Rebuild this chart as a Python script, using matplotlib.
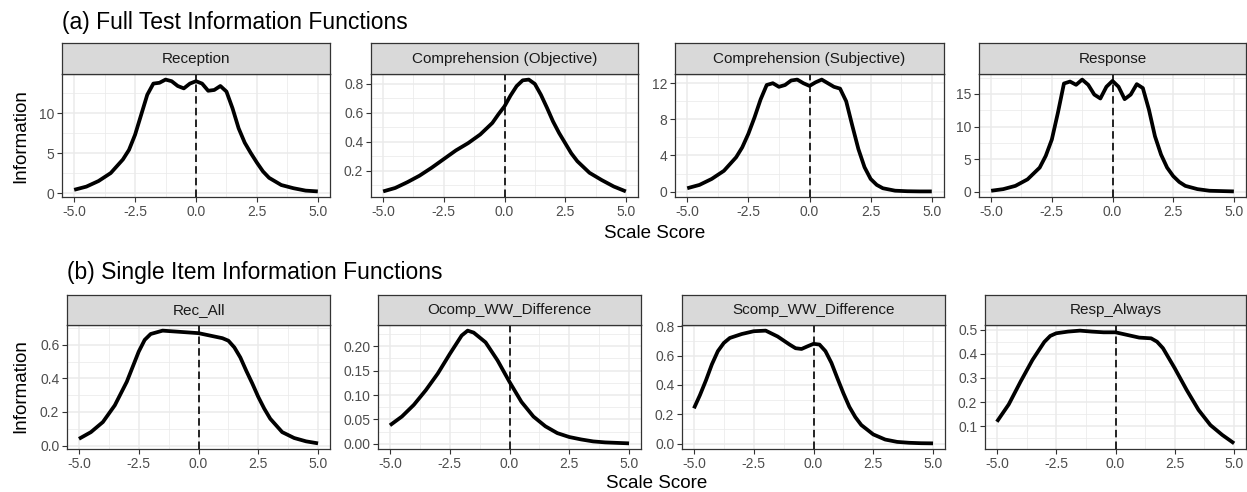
import numpy as np
import matplotlib
matplotlib.use("Agg")
from matplotlib import pyplot as plt

plt.rcParams['font.family'] = ['Liberation Sans', 'DejaVu Sans']

# ---- data ----
rec_x = [-5, -4.5, -4, -3.5, -3, -2.75, -2.5, -2.25, -2, -1.75, -1.5, -1.25, -1, -0.75, -0.5, -0.25,
         0, 0.25, 0.5, 0.75, 1, 1.25, 1.5, 1.75, 2, 2.25, 2.5, 2.75, 3, 3.5, 4, 4.5, 5]
rec_y = [0.4, 0.8, 1.5, 2.5, 4.2, 5.4, 7.3, 9.8, 12.3, 13.7, 13.8, 14.2, 14.0, 13.4, 13.1, 13.7,
         14.0, 13.7, 12.8, 12.9, 13.4, 12.7, 10.6, 8.1, 6.3, 5.0, 3.8, 2.7, 1.9, 1.0, 0.6, 0.3, 0.2]

ocomp_full_x = [-5, -4.5, -4, -3.5, -3, -2.5, -2, -1.5, -1, -0.5, -0.25, 0, 0.25, 0.5, 0.75, 1,
                1.25, 1.5, 1.75, 2, 2.25, 2.5, 2.75, 3, 3.5, 4, 4.5, 5]
ocomp_full_y = [0.056, 0.08, 0.12, 0.165, 0.22, 0.28, 0.34, 0.39, 0.45, 0.53, 0.59, 0.645, 0.72,
                0.785, 0.825, 0.83, 0.80, 0.725, 0.635, 0.54, 0.46, 0.39, 0.32, 0.265, 0.185,
                0.135, 0.09, 0.056]

scomp_full_x = [-5, -4.5, -4, -3.5, -3, -2.75, -2.5, -2.25, -2, -1.75, -1.5, -1.25, -1, -0.75,
                -0.5, -0.25, 0, 0.25, 0.5, 0.75, 1, 1.25, 1.5, 1.75, 2, 2.25, 2.5, 2.75, 3,
                3.5, 4, 4.5, 5]
scomp_full_y = [0.37, 0.74, 1.4, 2.3, 3.8, 4.9, 6.4, 8.2, 10.2, 11.8, 12.0, 11.6, 11.8, 12.3,
                12.4, 12.0, 11.7, 12.1, 12.4, 12.0, 11.6, 11.4, 10.0, 7.3, 4.7, 2.7, 1.4, 0.74,
                0.37, 0.1, 0.04, 0.02, 0.02]

resp_x = [-5, -4.5, -4, -3.5, -3, -2.75, -2.5, -2.25, -2, -1.75, -1.5, -1.25, -1, -0.75, -0.5,
          -0.25, 0, 0.25, 0.5, 0.75, 1, 1.25, 1.5, 1.75, 2, 2.25, 2.5, 2.75, 3, 3.5, 4, 4.5, 5]
resp_y = [0.15, 0.4, 0.9, 1.9, 3.7, 5.5, 8.0, 12.1, 16.6, 16.9, 16.4, 17.2, 16.4, 14.9, 14.3,
          16.1, 17.0, 16.1, 14.2, 14.9, 16.5, 15.9, 12.6, 8.5, 5.7, 3.7, 2.4, 1.5, 0.9, 0.4,
          0.15, 0.1, 0.05]

recall_x = [-5, -4.5, -4, -3.5, -3, -2.75, -2.5, -2.25, -2, -1.5, -1, -0.5, 0, 0.5, 1, 1.25,
            1.5, 1.75, 2, 2.25, 2.5, 2.75, 3, 3.5, 4, 4.5, 5]
recall_y = [0.04, 0.08, 0.14, 0.24, 0.38, 0.47, 0.56, 0.63, 0.665, 0.685, 0.68, 0.675, 0.67,
            0.655, 0.64, 0.625, 0.585, 0.525, 0.445, 0.37, 0.29, 0.22, 0.16, 0.08, 0.045,
            0.025, 0.013]

ocomp_x = [-5, -4.5, -4, -3.5, -3, -2.5, -2, -1.75, -1.5, -1, -0.5, 0, 0.5, 1, 1.5, 2, 2.5, 3,
           3.5, 4, 4.5, 5]
ocomp_y = [0.038, 0.056, 0.08, 0.11, 0.144, 0.184, 0.222, 0.232, 0.228, 0.208, 0.171, 0.127,
           0.086, 0.056, 0.036, 0.022, 0.014, 0.009, 0.005, 0.003, 0.002, 0.001]

scomp_x = [-5, -4.75, -4.5, -4.25, -4, -3.75, -3.5, -3, -2.5, -2, -1.5, -1, -0.75, -0.5, -0.25,
           0, 0.25, 0.5, 0.75, 1, 1.25, 1.5, 1.75, 2, 2.5, 3, 3.5, 4, 4.5, 5]
scomp_y = [0.24, 0.33, 0.43, 0.54, 0.63, 0.686, 0.72, 0.747, 0.766, 0.77, 0.73, 0.675, 0.65,
           0.645, 0.663, 0.68, 0.675, 0.63, 0.55, 0.445, 0.343, 0.25, 0.18, 0.126, 0.062,
           0.027, 0.011, 0.005, 0.002, 0.001]

always_x = [-5, -4.5, -4, -3.5, -3, -2.75, -2.5, -2, -1.5, -1, -0.5, 0, 0.5, 1, 1.5, 1.75, 2,
            2.5, 3, 3.5, 4, 4.5, 5]
always_y = [0.118, 0.19, 0.285, 0.375, 0.45, 0.475, 0.486, 0.493, 0.497, 0.493, 0.49, 0.49,
            0.479, 0.468, 0.465, 0.451, 0.424, 0.34, 0.25, 0.167, 0.104, 0.063, 0.028]

row_a_titles = ["Reception", "Comprehension (Objective)", "Comprehension (Subjective)", "Response"]
row_b_titles = ["Rec_All", "Ocomp_WW_Difference", "Scomp_WW_Difference", "Resp_Always"]
row_a_data = [(rec_x, rec_y), (ocomp_full_x, ocomp_full_y), (scomp_full_x, scomp_full_y), (resp_x, resp_y)]
row_b_data = [(recall_x, recall_y), (ocomp_x, ocomp_y), (scomp_x, scomp_y), (always_x, always_y)]
row_a_yticks = [[0, 5, 10], [0.2, 0.4, 0.6, 0.8], [0, 4, 8, 12], [0, 5, 10, 15]]
row_b_yticks = [[0, 0.2, 0.4, 0.6], [0, 0.05, 0.10, 0.15, 0.20], [0, 0.2, 0.4, 0.6, 0.8],
                [0.1, 0.2, 0.3, 0.4, 0.5]]
row_a_fmt = ["{:.0f}", "{:.1f}", "{:.0f}", "{:.0f}"]
row_b_fmt = ["{:.1f}", "{:.2f}", "{:.1f}", "{:.1f}"]
xticks = [-5.0, -2.5, 0.0, 2.5, 5.0]

# ---- layout in pixels ----
W, H = 1247, 492
fig = plt.figure(figsize=(W / 100, H / 100), dpi=100)

def rect(l, t, r, b):
    return [l / W, 1 - b / H, (r - l) / W, (b - t) / H]

cols_a = [(62, 330), (371, 638), (675, 944), (979, 1246)]
cols_b = [(67, 330), (378, 641), (682, 945), (985, 1246)]
dark = '#333333'
grid_c = '#EBEBEB'

def minor_breaks(ticks, lo, hi):
    t = list(ticks)
    d = t[1] - t[0]
    ext = [t[0] - d] + t + [t[-1] + d]
    mids = [(ext[i] + ext[i + 1]) / 2 for i in range(len(ext) - 1)]
    return [m for m in mids if lo <= m <= hi]

def panel(col, top, bottom, strip_top, title, xy, yt, fmt):
    l, r = col
    ax = fig.add_axes(rect(l, top, r, bottom))
    x, y = xy
    ymin, ymax = min(y), max(y)
    pad = (ymax - ymin) * 0.05
    lo, hi = ymin - pad, ymax + pad
    ax.set_xlim(-5.5, 5.5)
    ax.set_ylim(lo, hi)
    for v in minor_breaks(xticks, -5.5, 5.5):
        ax.axvline(v, color=grid_c, lw=0.55, zorder=0)
    for v in minor_breaks(yt, lo, hi):
        ax.axhline(v, color=grid_c, lw=0.55, zorder=0)
    for v in xticks:
        ax.axvline(v, color=grid_c, lw=1.1, zorder=0)
    for v in yt:
        ax.axhline(v, color=grid_c, lw=1.1, zorder=0)
    ax.plot(x, y, color='black', lw=2.7, solid_joinstyle='round', solid_capstyle='butt', zorder=3)
    ax.axvline(0, color='black', lw=1.2, ls=(0, (4.5, 2.5)), zorder=4)
    ax.set_xticks(xticks)
    ax.set_xticklabels(["{:.1f}".format(v) for v in xticks])
    ax.set_yticks(yt)
    ax.set_yticklabels([fmt.format(v) for v in yt])
    ax.tick_params(length=3.5, width=0.8, color=dark, labelcolor='#4D4D4D', labelsize=10, pad=2)
    for s in ax.spines.values():
        s.set_color(dark)
        s.set_linewidth(0.9)
    ax.set_facecolor('white')

    sax = fig.add_axes(rect(l, strip_top, r, top))
    sax.set_facecolor('#D9D9D9')
    sax.set_xticks([])
    sax.set_yticks([])
    for s in sax.spines.values():
        s.set_color(dark)
        s.set_linewidth(0.9)
    sax.text(0.5, 0.5, title, ha='center', va='center', fontsize=11, color='#1A1A1A',
             transform=sax.transAxes)
    return ax

for i in range(4):
    panel(cols_a[i], 74, 197, 43, row_a_titles[i], row_a_data[i], row_a_yticks[i], row_a_fmt[i])
    panel(cols_b[i], 325, 449, 295, row_b_titles[i], row_b_data[i], row_b_yticks[i], row_b_fmt[i])

fig.text(62 / W, 1 - 22 / H, "(a) Full Test Information Functions", fontsize=16.5, va='center', ha='left')
fig.text(67 / W, 1 - 273 / H, "(b) Single Item Information Functions", fontsize=16.5, va='center', ha='left')
fig.text(655 / W, 1 - 234 / H, "Scale Score", fontsize=13.5, ha='center', va='center')
fig.text(657 / W, 1 - 484 / H, "Scale Score", fontsize=13.5, ha='center', va='center')
fig.text(21 / W, 1 - 136 / H, "Information", fontsize=13.5, rotation=90, ha='center', va='center')
fig.text(21 / W, 1 - 386 / H, "Information", fontsize=13.5, rotation=90, ha='center', va='center')

plt.savefig('out.png', dpi=100)
